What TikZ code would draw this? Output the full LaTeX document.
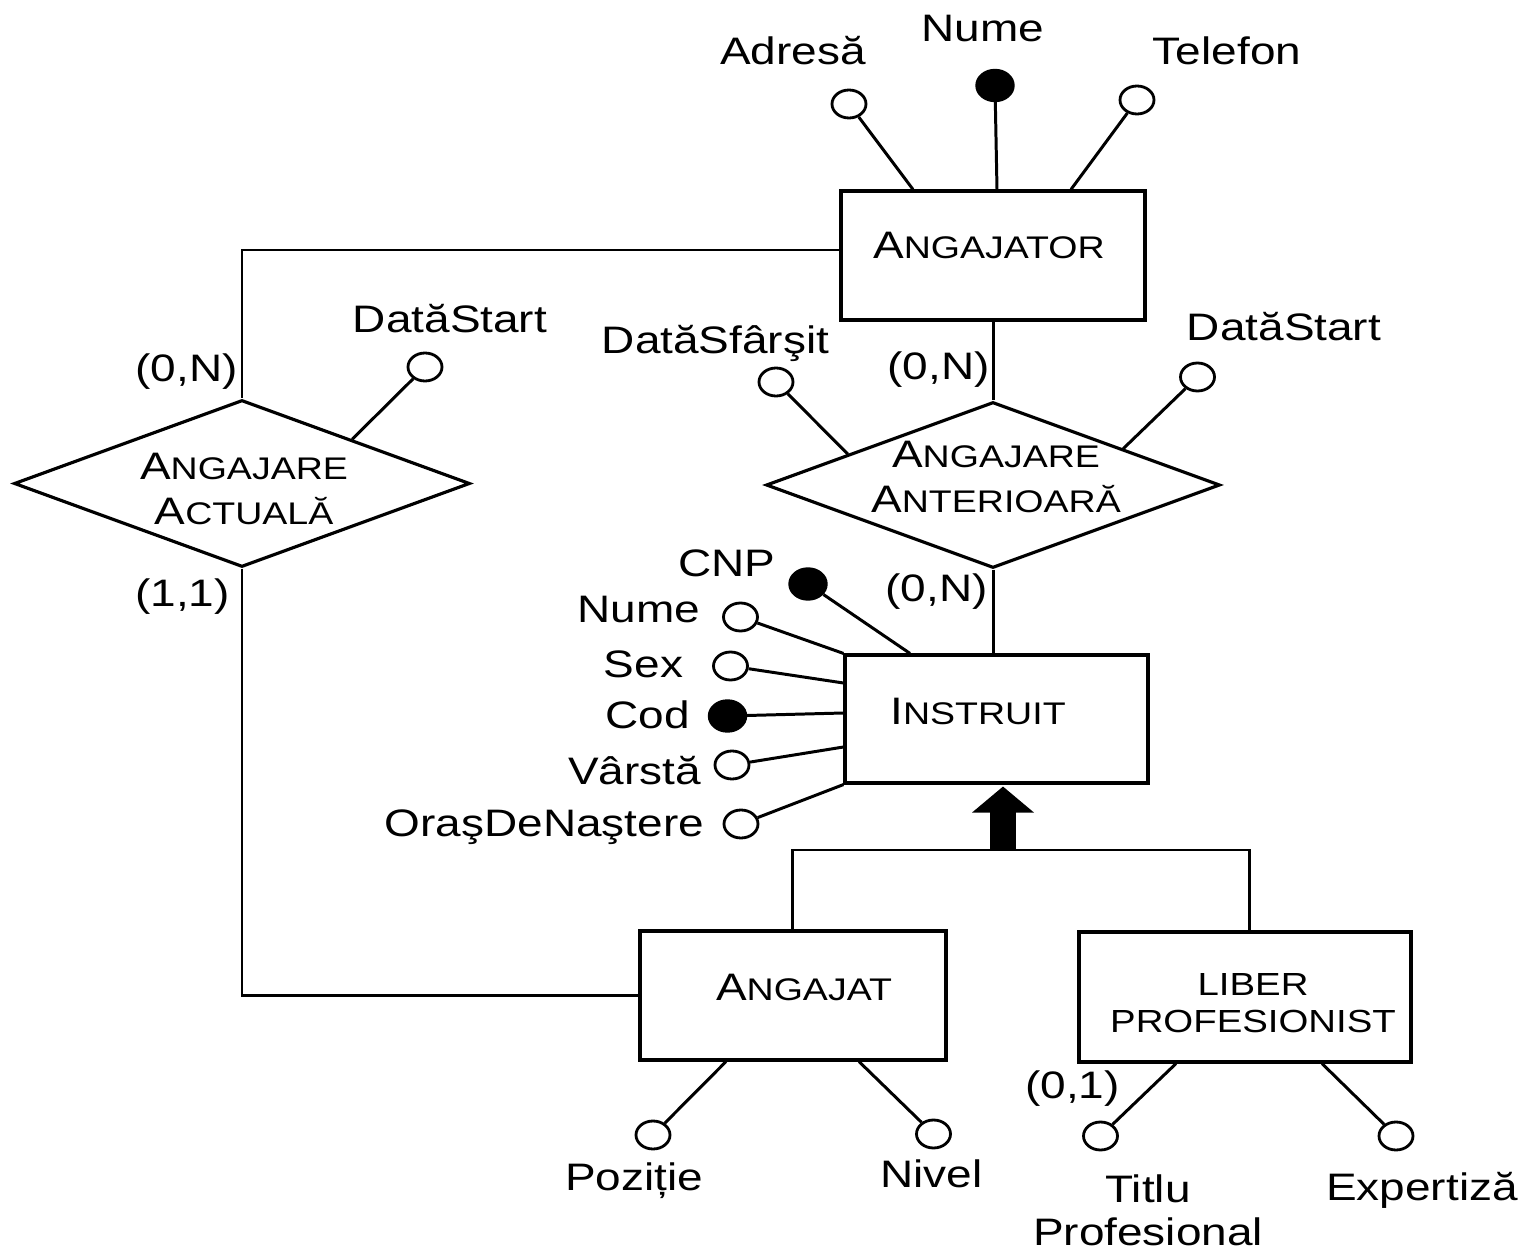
\documentclass[tikz,border=0pt]{standalone}
\usepackage{fontspec}
\setmainfont{Liberation Sans}[FakeStretch=1.2]
\usetikzlibrary{shapes.geometric,calc}

% capital followed by reduced capitals
\newcommand\capsc[2]{#1{\fontsize{17.8}{25.5}\selectfont #2}}

\begin{document}
\begin{tikzpicture}[x=0.02cm,y=-0.02cm,
  conn/.style={line width=1.7pt},
  ent/.style={draw, rectangle, line width=1.8pt, inner sep=0},
  rel/.style={draw, diamond, line width=1.8pt, inner sep=0},
  attr/.style={draw, ellipse, fill=white, line width=1.6pt, inner sep=0,
               minimum width=0.68cm, minimum height=0.56cm},
  keyattr/.style={draw, fill=black, ellipse, line width=0.8pt, inner sep=0,
               minimum width=0.76cm, minimum height=0.64cm},
  lbl/.style={inner sep=0, anchor=base, font=\fontsize{21.8}{25.5}\selectfont},
  mlbl/.style={lbl, anchor=center, align=center},
  card/.style={lbl, anchor=base east},
]
\useasboundingbox (0,0) rectangle (1522,1253);

% ---------- entities ----------
\node[ent, minimum width=6.08cm, minimum height=2.58cm] (angajator) at (993,255.5) {};
\node[lbl] (angajatorT) at (989,259) {\capsc{A}{NGAJATOR}};

\node[ent, minimum width=6.06cm, minimum height=2.56cm] (instruit) at (996.5,719) {};
\node[lbl] (instruitT) at (978,724) {\capsc{I}{NSTRUIT}};

\node[ent, minimum width=6.12cm, minimum height=2.58cm] (angajat) at (793,995.5) {};
\node[lbl] (angajatT) at (804,1000) {\capsc{A}{NGAJAT}};

\node[ent, minimum width=6.64cm, minimum height=2.6cm] (liber) at (1245,997) {};
\node[mlbl, font=\fontsize{18.2}{21}\selectfont] (liberT) at (1253,1003) {LIBER\\PROFESIONIST};

% ---------- relationships ----------
\node[rel, minimum width=9.12cm, minimum height=3.34cm] (aa) at (242,483.5) {};
\node[mlbl] (aaT) at (244,489) {\capsc{A}{NGAJARE}\\\capsc{A}{CTUALĂ}};

\node[rel, minimum width=9.08cm, minimum height=3.32cm] (an) at (993,485) {};
\node[mlbl] (anT) at (996,477) {\capsc{A}{NGAJARE}\\\capsc{A}{NTERIOARĂ}};

% ---------- relationship links ----------
\draw[conn] (angajator.west |- 0,250) -| (aa.north);
\draw[conn] (aa.south) |- (angajat.west);
\draw[conn] (angajator.south) -- (an.north);
\draw[conn] (an.south) -- (an.south |- instruit.north);

\node[card] (c1) at (238,382) {(0,N)};
\node[card] (c2) at (230,606) {(1,1)};
\node[card] (c3) at (990,380) {(0,N)};
\node[card] (c4) at (988,602) {(0,N)};

% ---------- specialisation ----------
\coordinate (isaL) at (792,850);
\coordinate (isaR) at (1249,850);
\coordinate (isaM) at (1003,850);
\draw[conn] (isaL |- angajat.north) -- (isaL) -- (isaR) -- (isaR |- liber.north);
\draw[line width=0.52cm] (isaM) -- ($(isaM |- instruit.south)+(0,25)$);
\fill ($(isaM |- instruit.south)+(0,2)$) -- ++(31,26) -- ++(-62,0) -- cycle;

% ---------- ANGAJATOR attributes ----------
\node[keyattr] (numeA) at (995,85.5) {};
\node[lbl] (numeAL) at (983,42) {Nume};
\draw[conn] (numeA) -- (997,0 |- angajator.north);

\node[attr] (adresa) at (849,104) {};
\node[lbl] (adresaL) at (793,65) {Adresă};
\draw[conn] (adresa) -- (913,0 |- angajator.north);

\node[attr] (telefon) at (1137,100) {};
\node[lbl] (telefonL) at (1227,65) {Telefon};
\draw[conn] (telefon) -- (1071,0 |- angajator.north);

% ---------- relationship attributes ----------
\node[attr] (dsA) at (425,367) {};
\node[lbl] (dsAL) at (450,333) {DatăStart};
\draw[conn] (dsA) -- ($(aa.north)!0.48!(aa.east)$);

\node[attr] (dsf) at (776,382) {};
\node[lbl] (dsfL) at (715.5,354) {DatăSfârşit};
\draw[conn] (dsf) -- ($(an.north)!0.635!(an.west)$);

\node[attr] (dsB) at (1197.5,377) {};
\node[lbl] (dsBL) at (1284,341) {DatăStart};
\draw[conn] (dsB) -- ($(an.north)!0.57!(an.east)$);

% ---------- INSTRUIT attributes ----------
\node[keyattr] (cnp) at (808,584) {};
\node[lbl] (cnpL) at (727,577) {CNP};
\draw[conn] (cnp) -- (910,0 |- instruit.north);

\node[attr] (nume) at (740.5,617) {};
\node[lbl] (numeL) at (639,622) {Nume};
\draw[conn] (nume) -- (instruit.north west);

\node[attr] (sex) at (730.5,666) {};
\node[lbl] (sexL) at (643.5,677) {Sex};
\draw[conn] (sex) -- (instruit.west |- 0,683);

\node[keyattr] (cod) at (727.5,716) {};
\node[lbl] (codL) at (647.5,728) {Cod};
\draw[conn] (cod) -- (instruit.west |- 0,713);

\node[attr] (varsta) at (732,765) {};
\node[lbl] (varstaL) at (634.5,784) {Vârstă};
\draw[conn] (varsta) -- (instruit.west |- 0,747);

\node[attr] (oras) at (741,824) {};
\node[lbl] (orasL) at (544.5,836) {OraşDeNaştere};
\draw[conn] (oras) -- (instruit.south west);

% ---------- ANGAJAT attributes ----------
\node[attr] (pozitie) at (653,1135) {};
\node[lbl] (pozitieL) at (634,1190) {Poziție};
\draw[conn] (pozitie) -- (726,0 |- angajat.south);

\node[attr] (nivel) at (933.5,1134) {};
\node[lbl] (nivelL) at (931.5,1187) {Nivel};
\draw[conn] (nivel) -- (859,0 |- angajat.south);

% ---------- LIBER PROFESIONIST attributes ----------
\node[attr] (titlu) at (1100.5,1136) {};
\node[mlbl, font=\fontsize{21.8}{24.4}\selectfont] (titluL) at (1148,1210) {Titlu\\Profesional};
\draw[conn] (titlu) -- (1176,0 |- liber.south);
\node[card] (c5) at (1120,1098) {(0,1)};

\node[attr] (expertiza) at (1396,1136) {};
\node[lbl] (expertizaL) at (1422,1200) {Expertiză};
\draw[conn] (expertiza) -- (1322,0 |- liber.south);
\end{tikzpicture}
\end{document}
